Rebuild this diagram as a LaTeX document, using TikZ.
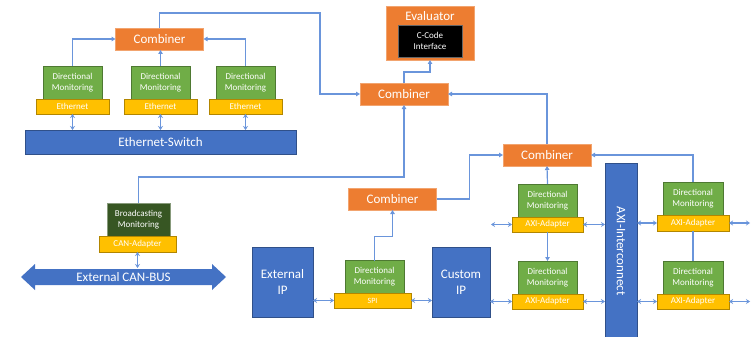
\documentclass[tikz,border=0pt]{standalone}
\usepackage{fontspec}
\setmainfont{Carlito}
\usetikzlibrary{arrows.meta,calc}
\definecolor{cOrange}{HTML}{ED7D31}
\definecolor{cGreen}{HTML}{70AD47}
\definecolor{cDGreen}{HTML}{375623}
\definecolor{cYellow}{HTML}{FFC000}
\definecolor{cBlue}{HTML}{4472C4}
\definecolor{cLine}{HTML}{6A95DB}
\tikzset{
  box/.style={inner sep=0pt, outer sep=0pt, text=white, align=center, line width=0.6pt},
  comb/.style={box, fill=cOrange, draw=cOrange!70!white, minimum width=88pt, minimum height=22pt, font=\fontsize{13}{15}\selectfont},
  mon/.style={box, fill=cGreen, draw=cGreen!70!black, minimum width=59pt, minimum height=33pt, font=\fontsize{9}{11}\selectfont},
  bmon/.style={box, fill=cDGreen, draw=cDGreen!60!white, minimum width=63pt, minimum height=33pt, font=\fontsize{9}{11}\selectfont},
  adp/.style={box, fill=cYellow, draw=cYellow!70!black, minimum height=15pt, font=\fontsize{9}{10}\selectfont},
  blk/.style={box, fill=cBlue, draw=cBlue!70!black, font=\fontsize{13}{16}\selectfont},
  conn/.style={draw=cLine, line width=1.2pt},
  arr/.style={conn, -{Triangle[length=4pt,width=4.5pt]}},
  dbl/.style={conn, {Stealth[length=4pt,width=5pt]}-{Stealth[length=4pt,width=5pt]}}
}
\begin{document}
\begin{tikzpicture}[x=1pt,y=-1pt]
\useasboundingbox (0,0) rectangle (752,337);
% Ethernet cluster
\node[comb] (comb1) at (159.5,39) {Combiner};
\node[mon] (dm1a) at (72.5,82.5) {Directional\\Monitoring};
\node[adp, minimum width=73pt] (eth1a) at (72.5,106.5) {Ethernet};
\node[mon] (dm1b) at (160.5,82.5) {Directional\\Monitoring};
\node[adp, minimum width=73pt] (eth1b) at (160.5,106.5) {Ethernet};
\node[mon] (dm1c) at (245.5,82.5) {Directional\\Monitoring};
\node[adp, minimum width=73pt] (eth1c) at (245.5,106.5) {Ethernet};
\node[blk, minimum width=271pt, minimum height=24pt] (switch) at (160.5,142) {Ethernet-Switch};
% Evaluator
\node[box, fill=cOrange, draw=cOrange!70!white, minimum width=88pt, minimum height=54pt] (eval) at (430,33) {};
\node[text=white, inner sep=0pt, font=\fontsize{13}{15}\selectfont] (evallbl) at (430,16) {Evaluator};
\node[box, fill=black, draw=black!60, minimum width=64pt, minimum height=32pt, font=\fontsize{9}{11}\selectfont] (ccode) at (430,41) {C-Code\\Interface};
\node[comb] (comb2) at (404,94) {Combiner};
\node[comb] (comb3) at (547,155) {Combiner};
\node[comb] (comb4) at (392.5,199) {Combiner};
% CAN
\node[bmon] (bm) at (138.5,219.5) {Broadcasting\\Monitoring};
\node[adp, minimum width=77pt, minimum height=16pt] (can) at (137.5,244) {CAN-Adapter};
\fill[cBlue] (21,277) -- (35,264) -- (35,269) -- (212,269) -- (212,264) -- (226,277) -- (212,290) -- (212,285) -- (35,285) -- (35,290) -- cycle;
\node[text=white, inner sep=0pt, font=\fontsize{13}{15}\selectfont] (canbus) at (123.5,277) {External CAN-BUS};
% IPs
\node[blk, minimum width=61pt, minimum height=70pt] (extip) at (282.5,282) {External\\IP};
\node[mon] (dm4) at (374.5,277) {Directional\\Monitoring};
\node[adp, minimum width=77pt, font=\fontsize{8}{9}\selectfont] (spi) at (372.5,300.5) {SPI};
\node[blk, minimum width=58pt, minimum height=70pt] (custip) at (461,282) {Custom\\IP};
% AXI
\node[mon] (dm5) at (547.5,200.5) {Directional\\Monitoring};
\node[adp, minimum width=71pt] (axi5) at (547.5,224.5) {AXI-Adapter};
\node[mon] (dm6) at (547.5,277.5) {Directional\\Monitoring};
\node[adp, minimum width=71pt] (axi6) at (547.5,301.5) {AXI-Adapter};
\node[blk, minimum width=32pt, minimum height=176pt] (ic) at (621,251) {};
\node[text=white, inner sep=0pt, rotate=-90, font=\fontsize{13}{15}\selectfont] (iclbl) at (621,251) {AXI-Interconnect};
\node[mon, minimum width=60pt] (dm7) at (693,198.5) {Directional\\Monitoring};
\node[adp, minimum width=72pt, minimum height=16pt] (axi7) at (693,223) {AXI-Adapter};
\node[mon, minimum width=60pt] (dm8) at (693,277.5) {Directional\\Monitoring};
\node[adp, minimum width=72pt] (axi8) at (693,301.5) {AXI-Adapter};
\coordinate (k1) at (320,13);
\coordinate (e5) at (491,224.5);
\coordinate (e7) at (750,223);
\coordinate (e8) at (750,301.5);
% connectors
\draw[dbl] (eth1a.south) -- (eth1a.south |- switch.north);
\draw[dbl] (eth1b.south) -- (eth1b.south |- switch.north);
\draw[dbl] (eth1c.south) -- (eth1c.south |- switch.north);
\draw[arr] (dm1a.north) |- (comb1.west);
\draw[arr] (dm1b.north) -- (dm1b.north |- comb1.south);
\draw[arr] (dm1c.north) |- (comb1.east);
\draw[arr] (comb1.north) |- (k1) |- (comb2.west);
\draw[arr] (comb2.north) -- ++(0,-11) -| (eval.south);
\draw[arr] (comb3.north) |- (comb2.east);
\draw[arr] (bm.north) -- ++(0,-26) -| (comb2.south);
\draw[dbl] (can.south) -- (can.south |- 0,268);
\draw[arr] (comb4.east) -- ++(33,0) |- (comb3.west);
\draw[arr] (dm4.north) -- ++(0,-24) -| (comb4.south);
\draw[dbl] (extip.east |- spi) -- (spi.west);
\draw[dbl] (spi.east) -- (custip.west |- spi);
\draw[dbl] (custip.east |- axi6) -- (axi6.west);
\draw[dbl] (e5) -- (axi5.west);
\draw[dbl] (axi5.east) -- (ic.west |- axi5);
\draw[dbl] (axi6.east) -- (ic.west |- axi6);
\draw[dbl] (ic.east |- axi7) -- (axi7.west);
\draw[dbl] (ic.east |- axi8) -- (axi8.west);
\draw[dbl] (axi7.east) -- (e7);
\draw[dbl] (axi8.east) -- (e8);
\draw[arr] (dm5.north) -- (comb3.south);
\draw[arr] (axi5.south) -- (dm6.north);
\draw[arr] (dm7.north) |- (comb3.east);
\draw[conn] (axi7.south) -- (dm8.north);
\end{tikzpicture}
\end{document}
